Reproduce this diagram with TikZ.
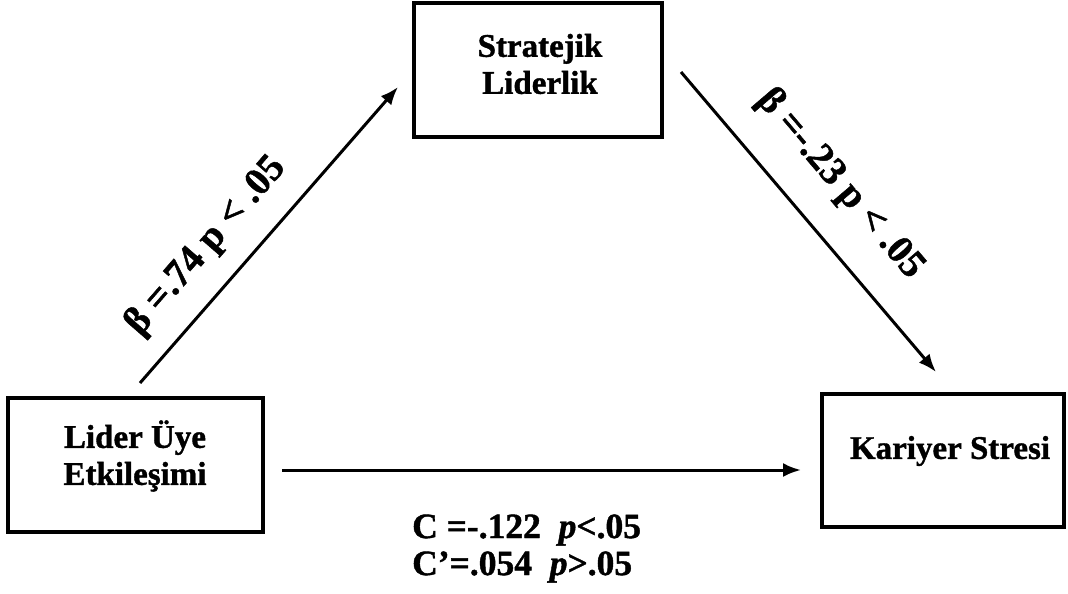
\documentclass[tikz,border=0pt]{standalone}
\usepackage{fontspec}
\setmainfont{Liberation Serif}[BoldFeatures={FakeBold=1.2},BoldItalicFeatures={FakeBold=1.2}]
\usetikzlibrary{arrows.meta}
\begin{document}
\begin{tikzpicture}[x=1pt,y=-1pt,
  varbox/.style={draw,line width=3.5pt,rectangle,inner sep=0pt},
  boxtext/.style={font=\fontsize{33}{37}\selectfont\bfseries,align=center,inner sep=0pt},
  pathlabel/.style={font=\fontsize{39}{44}\selectfont\bfseries,inner sep=0pt},
  footlabel/.style={font=\fontsize{35.5}{40}\selectfont\bfseries,inner sep=0pt},
  effect/.style={line width=3pt,-{Latex[length=18pt,width=14pt]}}]
\useasboundingbox (0,0) rectangle (1068,594);
% variables
\node[varbox,minimum width=248pt,minimum height=134pt] (sl) at (538,70) {};
\node[varbox,minimum width=255pt,minimum height=134pt] (lue) at (135.5,465) {};
\node[varbox,minimum width=242pt,minimum height=133pt] (ks) at (943,460.5) {};
\node[boxtext] (slt) at (540,64) {Stratejik\\Liderlik};
\node[boxtext] (luet) at (135,456) {Lider Üye\\Etkileşimi};
\node[boxtext] (kst) at (950,451) {Kariyer Stresi};
% connector end points
\coordinate (a1) at (140,383);
\coordinate (a2) at (398,87);
\coordinate (b1) at (681,72);
\coordinate (b2) at (936,372);
\coordinate (c1) at (282,470);
\coordinate (c2) at (801,470);
\draw[effect] (a1) -- (a2);
\draw[effect] (b1) -- (b2);
\draw[effect] (c1) -- (c2);
% path coefficients
\node[pathlabel,rotate=49] (la) at (206,246) {β =.74 p < .05};
\node[pathlabel,rotate=-49.5] (lb) at (840,184) {β =-.23 p < .05};
\node[footlabel,anchor=west] (lc1) at (412,530) {C =-.122\ \ \textit{p}<.05};
\node[footlabel,anchor=west] (lc2) at (412,567) {C’=.054\ \ \textit{p}>.05};
\end{tikzpicture}
\end{document}
